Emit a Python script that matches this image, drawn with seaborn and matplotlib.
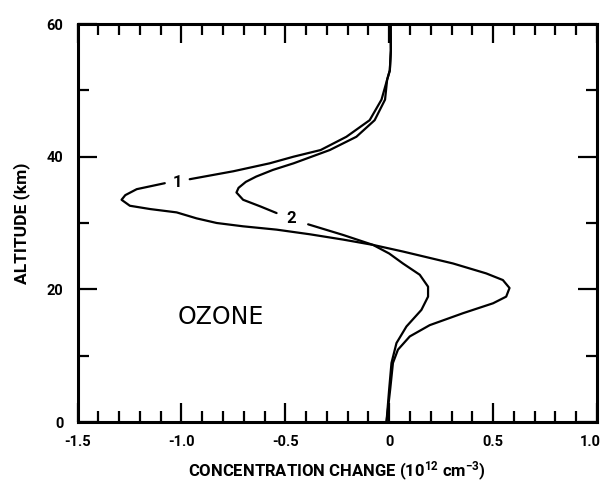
import matplotlib
matplotlib.use("Agg")
import matplotlib.pyplot as plt
import seaborn as sns
import pandas as pd
from matplotlib.ticker import MultipleLocator, FixedLocator
from matplotlib.transforms import ScaledTranslation

# Curve 1 (larger perturbation): altitude (km) and concentration change (1e12 cm^-3)
alt1 = [60, 56, 53, 51.6, 48.6, 45.5, 43.0, 41.0, 40.0, 39.0, 37.8, 36.6,
        36.0, 35.1, 34.2, 33.5, 32.6, 32.1, 31.6, 30.7, 30.0, 29.5, 29.0, 28.3, 27.5, 26.7,
        25.7, 23.9, 22.4, 21.4, 20.2, 18.9, 17.9, 16.4, 14.6, 12.9, 10.9, 8.9, 5, 0]
chg1 = [0.007, 0.008, 0.003, -0.01, -0.037, -0.094, -0.206, -0.33, -0.46, -0.575, -0.75, -0.96,
        -1.08, -1.215, -1.27, -1.288, -1.248, -1.15, -1.023, -0.927, -0.83, -0.703, -0.542, -0.382, -0.222, -0.078,
        0.066, 0.307, 0.467, 0.547, 0.579, 0.563, 0.50, 0.355, 0.195, 0.099, 0.042, 0.018, 0.005, -0.013]
label1_break = 12   # curve 1 is interrupted by its label "1" before this point

# Curve 2 (smaller perturbation)
alt2 = [60, 56, 53, 51.6, 48.6, 45.5, 43.0, 41.0, 39.0, 38.0, 37.0, 36.2, 35.3, 34.6, 33.5, 32.5, 31.5,
        29.8, 28.2, 26.7, 25.4, 23.9, 22.2, 20.4, 18.9, 16.9, 14.4, 11.9, 8.9, 5, 0]
chg2 = [0.007, 0.008, 0.003, -0.01, -0.02, -0.07, -0.158, -0.286, -0.46, -0.56, -0.64, -0.69, -0.725, -0.735, -0.703, -0.62, -0.542,
        -0.39, -0.222, -0.078, 0.0, 0.066, 0.147, 0.187, 0.187, 0.155, 0.083, 0.035, 0.011, 0.0, -0.013]
label2_break = 17   # curve 2 is interrupted by its label "2" before this point

labels = ["1", "2"]
label_x = [-1.02, -0.47]
label_y = [36.1, 30.7]

xticks = [-1.5, -1.0, -0.5, 0, 0.5, 1.0]
xticklabels = ["-1.5", "-1.0", "-0.5", "0", "0.5", "1.0"]
yticks = [0, 20, 40, 60]
yticklabels = ["0", "20", "40", "60"]

sns.set_style("ticks")
plt.rcParams['font.family'] = ['Roboto', 'DejaVu Sans']
plt.rcParams['text.color'] = 'black'
plt.rcParams['axes.labelcolor'] = 'black'
plt.rcParams['xtick.color'] = 'black'
plt.rcParams['ytick.color'] = 'black'
plt.rcParams['mathtext.fontset'] = 'custom'
plt.rcParams['mathtext.rm'] = 'Roboto:bold'
plt.rcParams['mathtext.default'] = 'rm'

def curve_frame(alt, chg, brk, name):
    seg = [f"{name}a" if i < brk else f"{name}b" for i in range(len(alt))]
    return pd.DataFrame({"alt": alt, "chg": chg, "seg": seg})

df = pd.concat([
    curve_frame(alt1, chg1, label1_break, "1"),
    curve_frame(alt2, chg2, label2_break, "2"),
])

fig = plt.figure(figsize=(6.04, 4.84), dpi=100)
ax = fig.add_axes([77.5 / 604, 1 - 422 / 484, (597 - 77.5) / 604, (422 - 24) / 484])
sns.lineplot(data=df, x="chg", y="alt", units="seg", estimator=None, sort=False,
             color="black", linewidth=1.6, ax=ax, legend=False)
for ln in ax.lines:
    ln.set_solid_joinstyle("round")
    ln.set_solid_capstyle("round")

ax.set_xlim(-1.5, 1.0)
ax.set_ylim(0, 60)
ax.xaxis.set_major_locator(FixedLocator(xticks))
ax.set_xticklabels(xticklabels)
ax.xaxis.set_minor_locator(MultipleLocator(0.1))
ax.yaxis.set_major_locator(FixedLocator(yticks))
ax.set_yticklabels(yticklabels)
ax.yaxis.set_minor_locator(MultipleLocator(10))
ax.tick_params(which="both", direction="in", top=True, right=True, width=1.6, color="black",
               labelsize=10.5)
ax.tick_params(axis="x", which="major", pad=9)
ax.tick_params(axis="y", which="major", pad=10)
ax.tick_params(which="major", length=14)
ax.tick_params(which="minor", length=8)
for lab in ax.get_xticklabels() + ax.get_yticklabels():
    lab.set_fontweight("bold")
last = ax.get_xticklabels()[-1]
last.set_transform(last.get_transform() + ScaledTranslation(-5 / 72, 0, fig.dpi_scale_trans))
for s in ax.spines.values():
    s.set_linewidth(2.2)
    s.set_color("black")

ax.set_xlabel("CONCENTRATION CHANGE (10$^{12}$ cm$^{-3}$)", fontsize=12, fontweight="bold", labelpad=8)
ax.set_ylabel("ALTITUDE (km)", fontsize=12.5, fontweight="bold", labelpad=12)

for t, x, y in zip(labels, label_x, label_y):
    ax.text(x, y, t, fontsize=12, fontweight="bold", ha="center", va="center", zorder=5)
ax.text(-1.017, 15.8, "OZONE", fontsize=17, ha="left", va="center", family=["DejaVu Sans"])

fig.savefig("out.png", dpi=100)
